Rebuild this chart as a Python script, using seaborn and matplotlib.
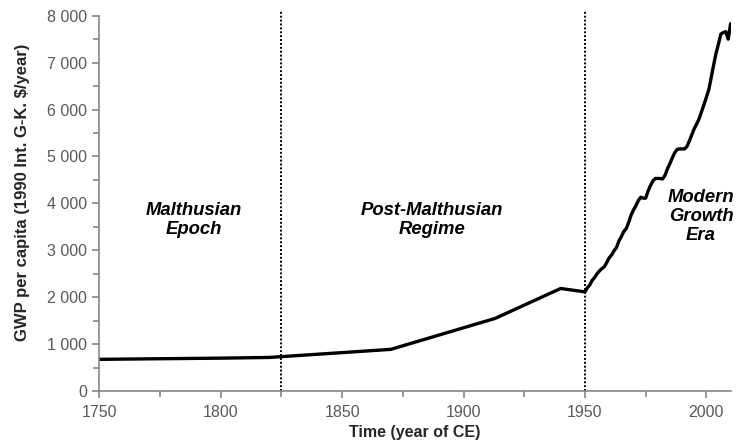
import numpy as np
import pandas as pd
import matplotlib.pyplot as plt
import seaborn as sns
from matplotlib.ticker import FuncFormatter, MultipleLocator

# world GDP per capita (1990 Int. G-K. $)
years_early = [1750, 1800, 1820, 1870, 1913, 1940]
gwp_early = [675, 700, 715, 887, 1547, 2185]

years_modern = list(range(1950, 2011))
gwp_modern = [
    2113, 2200, 2260, 2360, 2420, 2500, 2560, 2610, 2650, 2740,
    2840, 2900, 2990, 3060, 3200, 3290, 3400, 3460, 3590, 3750,
    3860, 3950, 4060, 4130, 4110, 4110, 4260, 4380, 4480, 4530,
    4530, 4530, 4520, 4600, 4740, 4850, 4970, 5080, 5150, 5160,
    5160, 5160, 5210, 5330, 5460, 5590, 5690, 5800, 5950, 6100,
    6260, 6420, 6680, 6950, 7200, 7400, 7610, 7640, 7660, 7500,
    7830,
]

era_bounds = [1825, 1950]
era_labels = ["Malthusian\nEpoch", "Post-Malthusian\nRegime", "Modern\nGrowth\nEra"]
era_label_x = [1789, 1887, 1997.8]
era_label_y = [3640, 3640, 3720]

df = pd.DataFrame({
    "year": years_early + years_modern,
    "gwp": gwp_early + gwp_modern,
})

sns.set_style("white")
plt.rcParams["font.family"] = ["Liberation Sans", "DejaVu Sans"]

fig = plt.figure(figsize=(7.38, 4.43), dpi=100)
ax = fig.add_axes([0.1346, 0.1174, 0.99 - 0.1346, 0.9646 - 0.1174])

sns.lineplot(data=df, x="year", y="gwp", ax=ax, color="black",
             linewidth=2.4, solid_joinstyle="round", solid_capstyle="round")

for b in era_bounds:
    ax.plot([b, b], [0, 8100], color="black", linestyle=(0, (1, 1)),
            linewidth=1.4, clip_on=False, zorder=1)

for lab, x, y in zip(era_labels, era_label_x, era_label_y):
    ax.text(x, y, lab, ha="center", va="center", fontsize=13.3,
            fontweight="bold", fontstyle="italic", color="black",
            linespacing=1.15, clip_on=False)

ax.set_xlim(1750, 2010)
ax.set_ylim(0, 8000)
ax.xaxis.set_major_locator(MultipleLocator(50))
ax.xaxis.set_minor_locator(MultipleLocator(25))
ax.yaxis.set_major_locator(MultipleLocator(1000))
ax.yaxis.set_minor_locator(MultipleLocator(500))
ax.yaxis.set_major_formatter(FuncFormatter(lambda v, p: f"{int(v):,}".replace(",", " ")))

grey = "#868686"
for side in ["top", "right"]:
    ax.spines[side].set_visible(False)
for side in ["left", "bottom"]:
    ax.spines[side].set_color(grey)
    ax.spines[side].set_linewidth(1.2)
ax.tick_params(which="both", direction="out", color=grey, width=1.2,
               labelsize=11.5, labelcolor="#595959")
ax.tick_params(which="major", length=5)
ax.tick_params(which="minor", length=4)
ax.tick_params(axis="x", which="both", bottom=True, pad=5)
ax.tick_params(axis="y", which="both", left=True, pad=4)

ax.set_xlabel("Time (year of CE)", fontsize=11.5, fontweight="bold", labelpad=4)
ax.set_ylabel("GWP per capita (1990 Int. G-K. $/year)", fontsize=12,
              fontweight="bold")
ax.yaxis.set_label_coords(-0.11, 0.53)

fig.savefig("out.png", dpi=100)
